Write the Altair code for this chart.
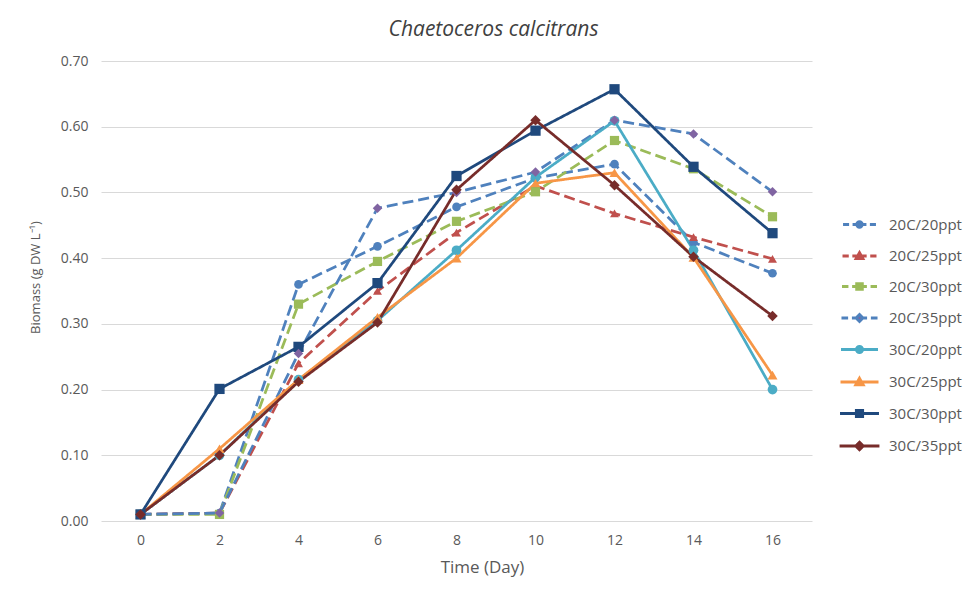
import altair as alt
import pandas as pd

# ---------------- data ----------------
days = [0, 2, 4, 6, 8, 10, 12, 14, 16]
series_names = ["20C/20ppt", "20C/25ppt", "20C/30ppt", "20C/35ppt",
                "30C/20ppt", "30C/25ppt", "30C/30ppt", "30C/35ppt"]

b_20c_20 = [0.010, 0.012, 0.360, 0.418, 0.478, 0.522, 0.543, 0.424, 0.377]
b_20c_25 = [0.010, 0.012, 0.240, 0.350, 0.439, 0.510, 0.468, 0.432, 0.399]
b_20c_30 = [0.010, 0.010, 0.330, 0.395, 0.456, 0.501, 0.579, 0.536, 0.463]
b_20c_35 = [0.010, 0.012, 0.255, 0.476, 0.500, 0.531, 0.610, 0.589, 0.501]
b_30c_20 = [0.010, 0.100, 0.215, 0.305, 0.412, 0.523, 0.609, 0.412, 0.200]
b_30c_25 = [0.010, 0.110, 0.215, 0.310, 0.400, 0.514, 0.530, 0.401, 0.222]
b_30c_30 = [0.010, 0.201, 0.265, 0.362, 0.525, 0.594, 0.657, 0.539, 0.438]
b_30c_35 = [0.010, 0.100, 0.212, 0.302, 0.504, 0.610, 0.511, 0.402, 0.312]
all_values = [b_20c_20, b_20c_25, b_20c_30, b_20c_35,
              b_30c_20, b_30c_25, b_30c_30, b_30c_35]

y_ticks = [0.0, 0.1, 0.2, 0.3, 0.4, 0.5, 0.6, 0.7]

# ---------------- styles ----------------
line_colors = ["#4F81BD", "#C0504D", "#9BBB59", "#4F81BD",
               "#4BACC6", "#F79646", "#1F497D", "#772C2A"]
marker_colors = ["#4F81BD", "#C0504D", "#9BBB59", "#8064A2",
                 "#4BACC6", "#F79646", "#1F497D", "#772C2A"]
marker_shapes = ["circle", "triangle-up", "square", "diamond",
                 "circle", "triangle-up", "square", "diamond"]
marker_sizes = [75, 110, 120, 100, 125, 115, 135, 85]
line_styles = ["dashed"] * 4 + ["solid"] * 4

FONT = "Open Sans"
TEXT = "#595959"

rows = []
for name, vals, shp, sty in zip(series_names, all_values, marker_shapes, line_styles):
    for d, v in zip(days, vals):
        rows.append({"day": d, "biomass": v, "series": name, "marker": shp, "dash": sty})
df = pd.DataFrame(rows)

# legend glyphs: line (dashed or solid) + marker, unit = sqrt(size)/2 px
marker_paths = {
    "circle": "M0.62,0A0.62,0.62,0,1,1,-0.62,0A0.62,0.62,0,1,1,0.62,0Z",
    "triangle-up": "M0,-0.72L0.72,0.55L-0.72,0.55Z",
    "square": "M-0.6,-0.6L0.6,-0.6L0.6,0.6L-0.6,0.6Z",
    "diamond": "M0,-0.7L0.7,0L0,0.7L-0.7,0Z",
}
dash_path = "M-3.8,0L-2.4,0M-1.6,0L-0.6,0M0.6,0L1.6,0M2.4,0L3.8,0"
solid_path = "M-3.8,0L3.8,0"
legend_paths = [(dash_path if sty == "dashed" else solid_path) + marker_paths[shp]
                for shp, sty in zip(marker_shapes, line_styles)]

leg = alt.Legend(
    title=None, orient="none", legendX=751, legendY=156, padding=0,
    symbolSize=144, symbolStrokeWidth=3, symbolOpacity=1,
    labelFont=FONT, labelFontSize=15, labelColor=TEXT,
    labelOffset=22, rowPadding=12.5,
)

x_enc = alt.X(
    "day:O",
    scale=alt.Scale(type="point", padding=0.5),
    axis=alt.Axis(title="Time (Day)", labelAngle=0, titleX=381, titleY=38),
)
y_enc = alt.Y(
    "biomass:Q",
    scale=alt.Scale(domain=[0, 0.7], nice=False, zero=True),
    axis=alt.Axis(values=y_ticks, format=".2f", title="Biomass (g DW L⁻¹)",
                  titleX=-59, titleY=216, grid=True),
)

stroke_scale = alt.Scale(domain=series_names, range=line_colors)
fill_scale = alt.Scale(domain=series_names, range=marker_colors)

base = alt.Chart(df)

lines = base.mark_line(strokeWidth=2.75, strokeJoin="round").encode(
    x=x_enc,
    y=y_enc,
    stroke=alt.Stroke("series:N", scale=stroke_scale, legend=leg),
    strokeDash=alt.StrokeDash(
        "dash:N",
        scale=alt.Scale(domain=["dashed", "solid"], range=[[11, 5], [1, 0]]),
        legend=None,
    ),
)

marker_layers = []
for shp in ["circle", "triangle-up", "square", "diamond"]:
    marker_layers.append(
        base.transform_filter(alt.datum.marker == shp)
        .mark_point(shape=shp, filled=True, opacity=1, strokeWidth=0)
        .encode(
            x=x_enc,
            y=y_enc,
            fill=alt.Fill("series:N", scale=fill_scale, legend=leg),
            size=alt.Size("series:N", scale=alt.Scale(domain=series_names, range=marker_sizes), legend=None),
        )
    )

legend_layer = base.transform_filter("false").mark_point(filled=True, opacity=1).encode(
    x=x_enc,
    y=y_enc,
    shape=alt.Shape("series:N", scale=alt.Scale(domain=series_names, range=legend_paths), legend=leg),
    fill=alt.Fill("series:N", scale=fill_scale, legend=leg),
    stroke=alt.Stroke("series:N", scale=stroke_scale, legend=leg),
)

chart = (
    alt.layer(lines, *marker_layers, legend_layer)
    .properties(
        width=711,
        height=460,
        autosize=alt.AutoSizeParams(type="none"),
        padding={"left": 93, "top": 53, "right": 156, "bottom": 64},
        title=alt.Title(
            "Chaetoceros calcitrans", font=FONT, fontSize=21, fontStyle="italic",
            fontWeight="normal", color="#404040", anchor="middle", dx=37, offset=14,
        ),
    )
    .configure_view(stroke=None)
    .configure_axis(
        labelFont=FONT, labelFontSize=14, labelColor=TEXT,
        titleFont=FONT, titleColor=TEXT, titleFontWeight="normal",
        domain=False, ticks=False, tickSize=0,
        gridColor="#D9D9D9", gridWidth=1,
    )
    .configure_axisX(labelPadding=12, titleFontSize=17, grid=False)
    .configure_axisY(labelPadding=13, titleFontSize=13)
)

chart.save("out.html", embed_options={"renderer": "svg", "actions": False})
